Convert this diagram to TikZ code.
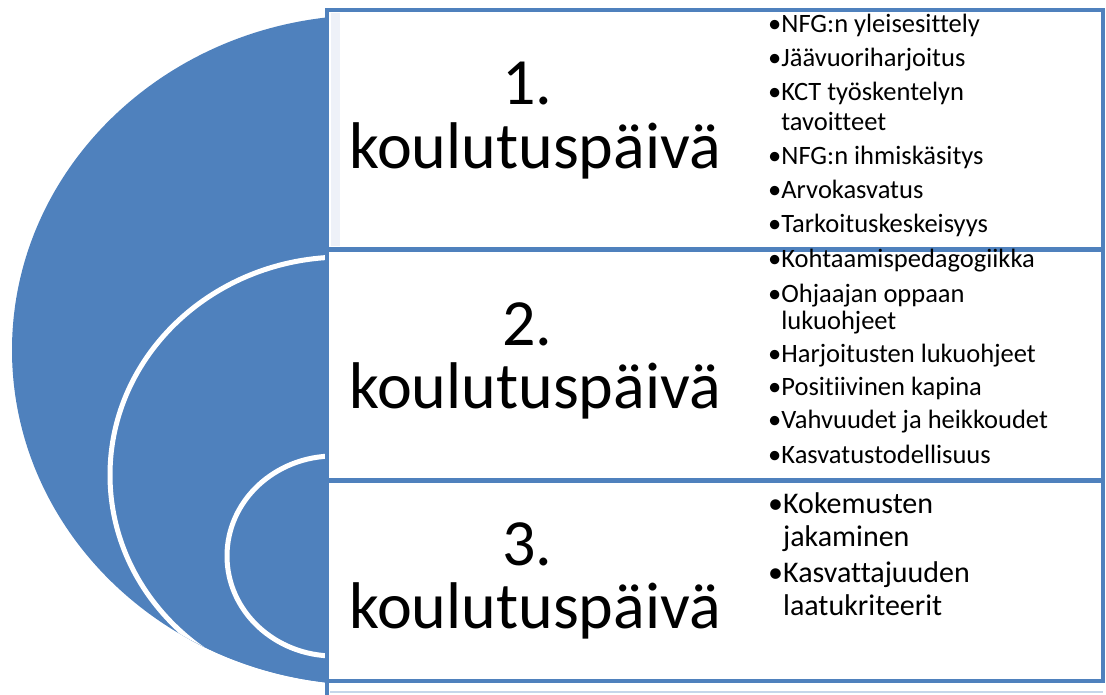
\documentclass[tikz,border=0pt]{standalone}
\usepackage{fontspec}
\setmainfont{Carlito}[Ligatures=NoCommon]
\usetikzlibrary{positioning}

\definecolor{ringblue}{HTML}{4F81BD}
\definecolor{paleblue}{HTML}{C5D6EA}
\definecolor{stripgray}{HTML}{EEF1F8}

\newcommand{\daytext}[1]{\begin{tabular}[t]{@{}c@{}}#1.\hspace*{0.23em}\\koulutuspäivä\end{tabular}}
\newcommand{\wrapitem}[2]{\begin{tabular}[t]{@{}l@{}}•#1\\\phantom{•}#2\end{tabular}}

\begin{document}
\begin{tikzpicture}[x=1pt, y=-1pt,
ring/.style={
		fill=ringblue,
		draw=white,
		line width=5pt,
		},
stage/.style={
		draw=ringblue,
		fill=white,
		line width=4pt,
		},
daylabel/.style={font=\fontsize{66}{60}\selectfont, anchor=base, inner sep=0pt},
topic/.style={font=\fontsize{26.5}{30}\selectfont, anchor=base west, inner sep=0pt},
topicbig/.style={topic, font=\fontsize{30}{33}\selectfont}
]
\useasboundingbox (0,0) rectangle (1106,695);

\def \edge {327}
\def \right {1103}

% the target, cut off by the boxes
\begin{scope}
  \clip (0,0) rectangle (\edge,695);
  \clip (370,350) ellipse [x radius=358, y radius=335];
  \fill[ringblue] (370,350) ellipse [x radius=358, y radius=335];
  \draw[ring] (343,475) ellipse [x radius=233, y radius=218];
  \draw[ring] (334,556) ellipse [x radius=107, y radius=100];
\end{scope}

% boxes
\draw[stage] (\edge,10) rectangle (\right,249);
\fill[stripgray] (331,13) rectangle (340,246);
\draw[stage] (\edge,250) rectangle (\right,480);
\draw[stage] (\edge,481) rectangle (\right,681);
\draw[paleblue, line width=2pt] (330,692) -- (\right,692);
\draw[ringblue, line width=4pt] (\edge,683) -- (\edge,695);

% days
\node[daylabel] (day1) at (535,105) {\daytext{1}};
\node[daylabel] (day2) at (535,345) {\daytext{2}};
\node[daylabel] (day3) at (535,565) {\daytext{3}};

% day 1
\node[topic] (t11) at (768,33) {•NFG:n yleisesittely};
\node[topic, below=34pt of t11.base west, anchor=base west] (t12) {•Jäävuoriharjoitus};
\node[topic, below=34pt of t12.base west, anchor=base west] (t13) {\wrapitem{KCT työskentelyn}{tavoitteet}};
\node[topic, below=64pt of t13.base west, anchor=base west] (t14) {•NFG:n ihmiskäsitys};
\node[topic, below=34pt of t14.base west, anchor=base west] (t15) {•Arvokasvatus};
\node[topic, below=34pt of t15.base west, anchor=base west] (t16) {•Tarkoituskeskeisyys};

% day 2
\node[topic] (t21) at (768,268) {•Kohtaamispedagogiikka};
\node[topic, font=\fontsize{26.5}{27}\selectfont, below=34pt of t21.base west, anchor=base west] (t22) {\wrapitem{Ohjaajan oppaan}{lukuohjeet}};
\node[topic, below=60pt of t22.base west, anchor=base west] (t23) {•Harjoitusten lukuohjeet};
\node[topic, below=33pt of t23.base west, anchor=base west] (t24) {•Positiivinen kapina};
\node[topic, below=33pt of t24.base west, anchor=base west] (t25) {•Vahvuudet ja heikkoudet};
\node[topic, below=35pt of t25.base west, anchor=base west] (t26) {•Kasvatustodellisuus};

% day 3
\node[topicbig] (t31) at (768,513) {\wrapitem{Kokemusten}{jakaminen}};
\node[topicbig, below=69pt of t31.base west, anchor=base west] (t32) {\wrapitem{Kasvattajuuden}{laatukriteerit}};
\end{tikzpicture}
\end{document}
